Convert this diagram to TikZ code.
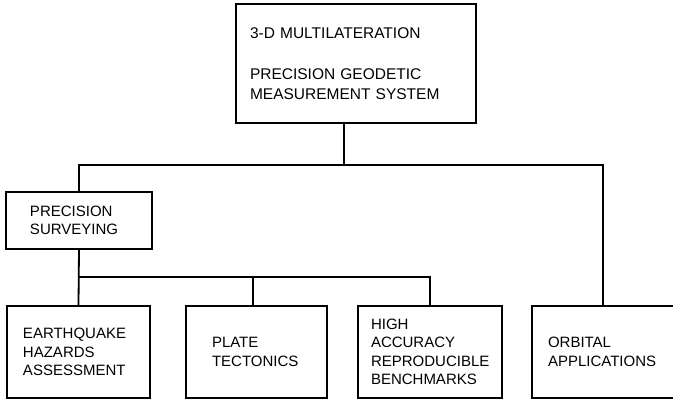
\documentclass[tikz,border=0pt]{standalone}
\usepackage{fontspec}
\setmainfont{Liberation Sans}

\begin{document}
\begin{tikzpicture}
        [x=1pt,y=-1pt,
        box/.style={rectangle,draw=black,line width=1.6pt,align=left,minimum height=92pt,
          font=\fontsize{15}{18.5}\selectfont},
        link/.style={draw=black,line width=1.8pt},
        ]
        \useasboundingbox (0,0) rectangle (673,401);

        % main system
        \node[box,minimum height=119pt,text width=212pt,inner xsep=14pt,
          font=\fontsize{15.5}{19.5}\selectfont] (top) at (356,63.5)
          {3-D MULTILATERATION\\[22pt]PRECISION GEODETIC\\MEASUREMENT SYSTEM};

        % second level
        \node[box,minimum height=57pt,text width=98pt,inner xsep=24pt] (prec) at (79,220.5)
          {PRECISION\\SURVEYING};

        % applications
        \node[box,text width=111pt,inner xsep=16pt] (quake) at (78.5,352)
          {EARTHQUAKE\\HAZARDS\\ASSESSMENT};
        \node[box,text width=89pt,inner xsep=26pt] (plate) at (256.5,352)
          {PLATE\\TECTONICS};
        \node[box,text width=118pt,inner xsep=13pt] (bench) at (430,352)
          {HIGH\\ACCURACY\\REPRODUCIBLE\\BENCHMARKS};
        \node[box,text width=110pt,inner xsep=16pt] (orbit) at (603,352)
          {ORBITAL\\APPLICATIONS};

        % junctions
        \coordinate (j1) at (344,165);
        \coordinate (j2) at (78.5,277);

        \draw[link] (top.south -| j1) -- (j1);
        \draw[link] (prec.north) |- (j1) -| (orbit.north);
        \draw[link] (prec.south) -- (quake.north);
        \draw[link] (j2) -| (bench.north);
        \draw[link] (j2 -| 253,0) -- (plate.north -| 253,0);

      \end{tikzpicture}
\end{document}
